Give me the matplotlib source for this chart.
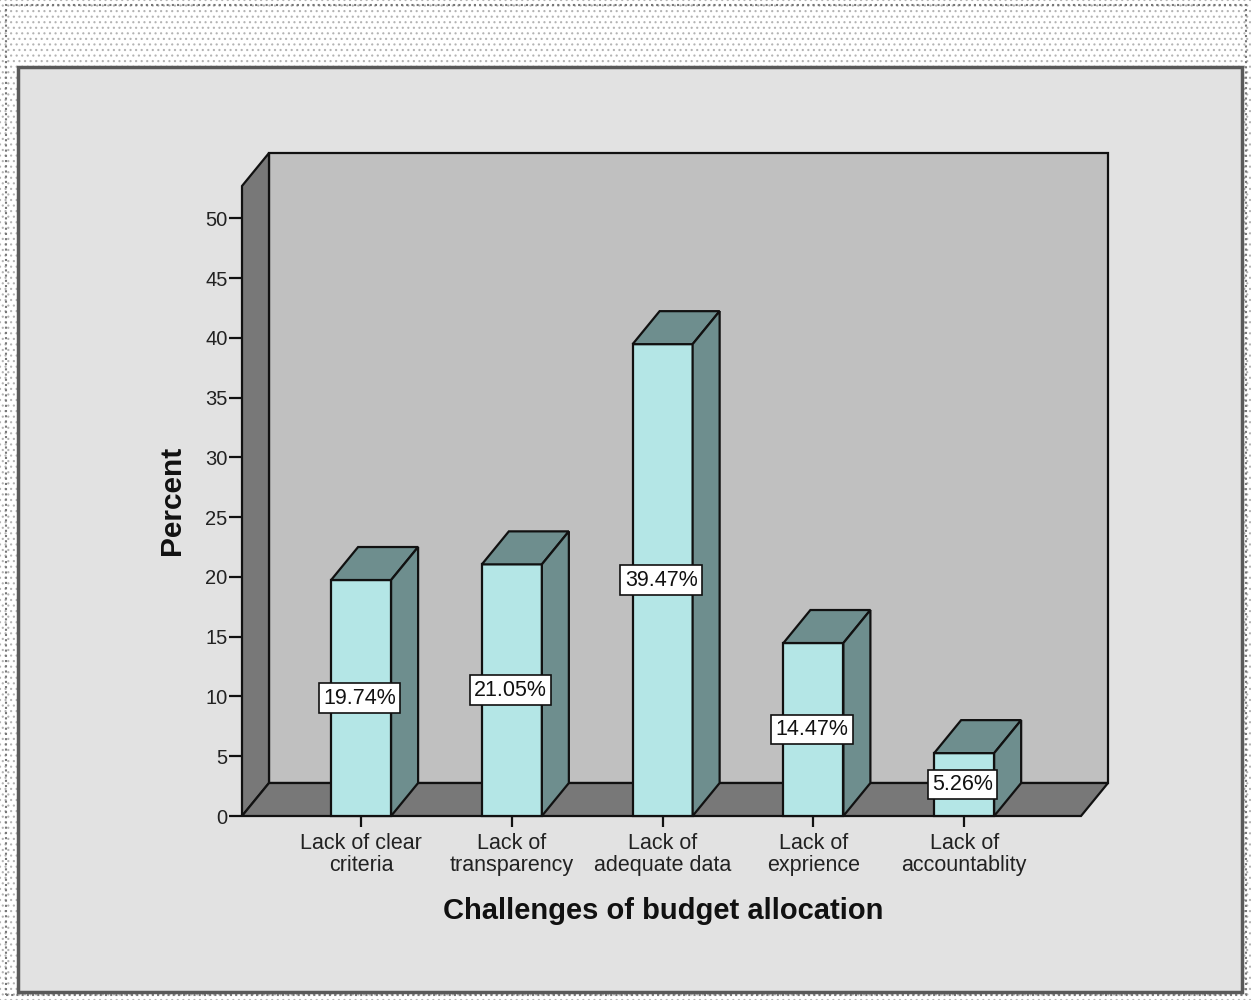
import matplotlib.pyplot as plt
from matplotlib.patches import Polygon, Rectangle

plt.rcParams['font.family'] = ['Liberation Sans', 'DejaVu Sans']

categories = ["Lack of clear\ncriteria", "Lack of\ntransparency", "Lack of\nadequate data",
              "Lack of\nexprience", "Lack of\naccountablity"]
percent = [19.74, 21.05, 39.47, 14.47, 5.26]
yticks = [0, 5, 10, 15, 20, 25, 30, 35, 40, 45, 50]

# 3d look, in data units
DX = 0.179      # depth shift in category units
DY = 2.76       # depth shift in percent units
HALF = 0.199    # half bar width
X0, X1 = -0.79, 4.775
YTOP = 52.7

FRONT = "#b4e6e6"
SIDE = "#6e8e8e"
WALL = "#c0c0c0"
FLOOR = "#787878"
EDGE = "#111111"


def box(ax, pts, color, z):
    ax.add_patch(Polygon(pts, closed=True, facecolor=color, edgecolor=EDGE,
                         lw=1.6, joinstyle="miter", zorder=z, clip_on=False))


W, H = 1251, 1000
fig = plt.figure(figsize=(W / 100, H / 100), dpi=100)

# dotted outer frame and the grey panel
plt.rcParams['hatch.linewidth'] = 0.8
plt.rcParams['hatch.color'] = "#b4b4b4"
fig.patches.append(Rectangle((0, 0), 1, 1, transform=fig.transFigure, facecolor="white",
                             edgecolor="#b4b4b4", hatch="...", lw=0.01, zorder=-5))
fig.patches.append(Rectangle((6 / W, 1 - 995 / H), 1240 / W, 990 / H, transform=fig.transFigure,
                             fill=False, edgecolor="#777777", lw=1.5, ls=(0, (1, 1.5)), zorder=-4))
fig.patches.append(Rectangle((18 / W, 1 - 992 / H), 1224 / W, 925 / H, transform=fig.transFigure,
                             facecolor="#e2e2e2", edgecolor="#5a5a5a", lw=2.5, zorder=-3))

ax = fig.add_axes([242 / W, 1 - 816 / H, (1108 - 242) / W, (816 - 153) / H])
ax.set_xlim(X0, X1 + DX)
ax.set_ylim(0, YTOP + DY)
ax.patch.set_visible(False)
for s in ax.spines.values():
    s.set_visible(False)

# back wall, left wall, floor
box(ax, [(X0 + DX, DY), (X1 + DX, DY), (X1 + DX, YTOP + DY), (X0 + DX, YTOP + DY)], WALL, 1)
box(ax, [(X0, 0), (X0 + DX, DY), (X0 + DX, YTOP + DY), (X0, YTOP)], FLOOR, 2)
box(ax, [(X0, 0), (X1, 0), (X1 + DX, DY), (X0 + DX, DY)], FLOOR, 2)

for i, v in enumerate(percent):
    l, r = i - HALF, i + HALF
    box(ax, [(l, 0), (r, 0), (r, v), (l, v)], FRONT, 3)
    box(ax, [(l, v), (r, v), (r + DX, v + DY), (l + DX, v + DY)], SIDE, 3)
    box(ax, [(r, 0), (r + DX, DY), (r + DX, v + DY), (r, v)], SIDE, 3)
    ax.text(i - 0.01, v / 2, "%.2f%%" % v, ha="center", va="center", fontsize=15.5,
            color="#111111", zorder=5,
            bbox=dict(boxstyle="square,pad=0.2", facecolor="white", edgecolor="#111111", lw=1.2))

ax.set_yticks(yticks)
ax.set_yticklabels([str(t) for t in yticks], fontsize=14.5, color="#222222")
ax.set_xticks(range(len(categories)))
ax.set_xticklabels(categories, fontsize=15.5, color="#222222", linespacing=1.1)
ax.tick_params(axis="y", direction="out", length=9.5, width=1.6, pad=1, color="#111111")
ax.tick_params(axis="x", direction="out", length=8, width=1.6, pad=4, color="#111111")

fig.text(172 / W, 1 - 500 / H, "Percent", rotation=90, ha="center", va="center",
         fontsize=21.5, fontweight="bold", color="#111111")
fig.text(663 / W, 1 - 911 / H, "Challenges of budget allocation", ha="center", va="center",
         fontsize=21, fontweight="bold", color="#111111")

fig.savefig("out.png", dpi=100)
